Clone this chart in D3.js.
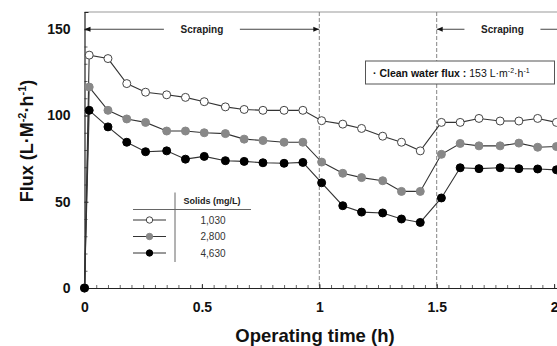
<!DOCTYPE html>
<html>
<head>
<meta charset="utf-8">
<script src="https://cdn.jsdelivr.net/npm/d3@7"></script>
<style>
  body { margin: 0; background: #fff; }
  svg { font-family: "Liberation Sans", Arial, sans-serif; }
</style>
</head>
<body>
<div class="chart"></div>
<script>
// chart values
var times = [0, 0.02, 0.1, 0.18, 0.26, 0.35, 0.43, 0.51, 0.6, 0.68, 0.76, 0.85, 0.93,
             1.01, 1.1, 1.18, 1.27, 1.35, 1.43, 1.52, 1.6, 1.68, 1.77, 1.85, 1.93, 2.01];
var flux1030 = [0, 135, 133, 118.5, 113.5, 112, 110.5, 108, 105, 103.5, 103, 103, 103,
                97, 95, 92.5, 88, 84.5, 79.5, 96, 96, 98.3, 96.8, 96.8, 98.3, 96];
var flux2800 = [0, 116.5, 103, 98, 96, 91, 91, 90, 89.5, 86.3, 85.5, 84.5, 84.5,
                73, 66.5, 64, 62.2, 56, 56, 77.5, 83.8, 82.4, 82.4, 84, 81.6, 82];
var flux4630 = [0, 103, 93.4, 84.5, 79, 79.5, 74.7, 76.3, 73.8, 73.4, 72.6, 72.3, 72.8,
                61, 47.7, 44, 43.5, 40, 38, 52.2, 69.7, 69.2, 69.7, 69.2, 69, 68.5];
var seriesNames = ["1,030", "2,800", "4,630"];
var yTicks = [0, 50, 100, 150];
var xTicks = [0, 0.5, 1, 1.5, 2];
// start, label centre, end of each scraping arrow (h)
var scrapingSpans = [[0, 0.5, 1], [1.5, 1.78, 2.5]];

var svgWidth = 557;
var svgHeight = 346;
var margin = {top: 12, left: 84.5};
var chartHeight = 288 - margin.top;
var pxPerHour = 234.8;

var svg = d3.select(".chart")
  .append("svg")
  .attr("width", svgWidth)
  .attr("height", svgHeight);

var chart = svg.append("g")
  .attr("transform", `translate(${margin.left},${margin.top})`);

var x = d3.scaleLinear().domain([0, 2.6]).range([0, 2.6 * pxPerHour]);
var y = d3.scaleLinear().domain([0, 160]).range([chartHeight, 0]);

// frame top line
chart.append("line")
  .attr("x1", 0).attr("x2", x(2.6))
  .attr("y1", 0).attr("y2", 0)
  .attr("stroke", "#999").attr("stroke-width", 1);

// dashed lines at the phase changes
chart.selectAll(".phase")
  .data([1, 1.5])
  .enter()
  .append("line")
  .attr("x1", d => x(d)).attr("x2", d => x(d))
  .attr("y1", 0).attr("y2", chartHeight)
  .attr("stroke", "#777")
  .attr("stroke-dasharray", "4,2")
  .attr("stroke-width", 0.9);

// minor ticks
chart.append("g")
  .attr("transform", `translate(0,${chartHeight})`)
  .call(d3.axisBottom(x).tickValues(d3.range(0, 2.6, 0.05)).tickSize(-3).tickFormat(""))
  .call(g => g.select(".domain").remove())
  .selectAll("line").attr("stroke", "#666");
chart.append("g")
  .call(d3.axisLeft(y).tickValues(d3.range(0, 161, 10)).tickSize(-3).tickFormat(""))
  .call(g => g.select(".domain").remove())
  .selectAll("line").attr("stroke", "#666");

// axes
var xAxis = chart.append("g")
  .attr("transform", `translate(0,${chartHeight})`)
  .call(d3.axisBottom(x).tickValues(xTicks).tickSize(-4).tickPadding(14).tickFormat(d3.format("")));
var yAxis = chart.append("g")
  .call(d3.axisLeft(y).tickValues(yTicks).tickSize(-4).tickPadding(14));

[xAxis, yAxis].forEach(function(a) {
  a.select(".domain").attr("stroke", "#222").attr("stroke-width", 1.2);
  a.selectAll("line").attr("stroke", "#333");
  a.selectAll("text")
    .attr("font-size", "14px")
    .attr("font-weight", "bold")
    .attr("fill", "#111")
    .attr("font-family", "'Liberation Sans', Arial, sans-serif");
});

// scraping arrows
svg.append("defs").append("marker")
  .attr("id", "arrow")
  .attr("viewBox", "0 0 10 10")
  .attr("refX", 10).attr("refY", 5)
  .attr("markerWidth", 6).attr("markerHeight", 6)
  .attr("orient", "auto-start-reverse")
  .append("path")
  .attr("d", "M0,1 L10,5 L0,9 Z")
  .attr("fill", "#111");

var arrowY = y(150);
scrapingSpans.forEach(function(span) {
  chart.append("line")
    .attr("x1", x(span[0])).attr("x2", x(span[1]) - 38)
    .attr("y1", arrowY).attr("y2", arrowY)
    .attr("stroke", "#444")
    .attr("marker-start", "url(#arrow)");
  chart.append("line")
    .attr("x1", x(span[1]) + 38).attr("x2", x(span[2]))
    .attr("y1", arrowY).attr("y2", arrowY)
    .attr("stroke", "#444")
    .attr("marker-end", "url(#arrow)");
  chart.append("text")
    .attr("x", x(span[1]))
    .attr("y", arrowY + 3.5)
    .attr("text-anchor", "middle")
    .attr("font-size", "10px")
    .attr("font-weight", "bold")
    .attr("fill", "#222")
    .text("Scraping");
});

// clean water flux box
svg.append("rect")
  .attr("x", 365.5).attr("y", 61)
  .attr("width", 189).attr("height", 23)
  .attr("fill", "#fff")
  .attr("stroke", "#555");
var cw = svg.append("text")
  .attr("x", 373).attr("y", 76.5)
  .attr("font-size", "10.5px")
  .attr("fill", "#111");
cw.append("tspan").attr("font-weight", "bold").text("· Clean water flux : ");
cw.append("tspan").text("153 L·m");
cw.append("tspan").attr("font-size", "7px").attr("dy", -4).text("-2");
cw.append("tspan").attr("dy", 4).text("·h");
cw.append("tspan").attr("font-size", "7px").attr("dy", -4).text("-1");

// series
var series = [
  {name: seriesNames[0], values: flux1030, fill: "#fff", stroke: "#444"},
  {name: seriesNames[1], values: flux2800, fill: "#888", stroke: "#888"},
  {name: seriesNames[2], values: flux4630, fill: "#000", stroke: "#000"}
];

var line = d3.line()
  .x((d, i) => x(times[i]))
  .y(d => y(d));

series.forEach(function(s) {
  chart.append("path")
    .datum(s.values)
    .attr("d", line)
    .attr("fill", "none")
    .attr("stroke", "#333")
    .attr("stroke-width", 1.1);
});
series.forEach(function(s) {
  chart.selectAll(null)
    .data(s.values)
    .enter()
    .append("circle")
    .attr("cx", (d, i) => x(times[i]))
    .attr("cy", d => y(d))
    .attr("r", 4)
    .attr("fill", s.fill)
    .attr("stroke", s.stroke)
    .attr("stroke-width", 1);
});

// legend
var legend = svg.append("g");
legend.append("line")
  .attr("x1", 175).attr("x2", 175).attr("y1", 192.5).attr("y2", 262)
  .attr("stroke", "#666");
legend.append("line")
  .attr("x1", 133).attr("x2", 251).attr("y1", 209.5).attr("y2", 209.5)
  .attr("stroke", "#666");
legend.append("text")
  .attr("x", 212).attr("y", 204)
  .attr("text-anchor", "middle")
  .attr("font-size", "9px")
  .attr("font-weight", "bold")
  .attr("fill", "#222")
  .text("Solids (mg/L)");

series.forEach(function(s, i) {
  var ly = 220 + i * 16.5;
  legend.append("line")
    .attr("x1", 133).attr("x2", 166).attr("y1", ly).attr("y2", ly)
    .attr("stroke", "#333");
  legend.append("circle")
    .attr("cx", 149.5).attr("cy", ly).attr("r", 3.2)
    .attr("fill", s.fill).attr("stroke", s.stroke);
  legend.append("text")
    .attr("x", 213).attr("y", ly + 3.5)
    .attr("text-anchor", "middle")
    .attr("font-size", "10px")
    .attr("fill", "#333")
    .text(s.name);
});

// axis titles
svg.append("text")
  .attr("x", 315).attr("y", 341.5)
  .attr("text-anchor", "middle")
  .attr("font-size", "18.5px")
  .attr("font-weight", "bold")
  .attr("fill", "#111")
  .text("Operating time (h)");

var yt = svg.append("text")
  .attr("transform", "translate(33,141) rotate(-90)")
  .attr("text-anchor", "middle")
  .attr("font-size", "18px")
  .attr("font-weight", "bold")
  .attr("fill", "#111");
yt.append("tspan").text("Flux (L·M");
yt.append("tspan").attr("font-size", "11px").attr("dy", -7).text("-2");
yt.append("tspan").attr("dy", 7).text("·h");
yt.append("tspan").attr("font-size", "11px").attr("dy", -7).text("-1");
yt.append("tspan").attr("dy", 7).text(")");
</script>
</body>
</html>
